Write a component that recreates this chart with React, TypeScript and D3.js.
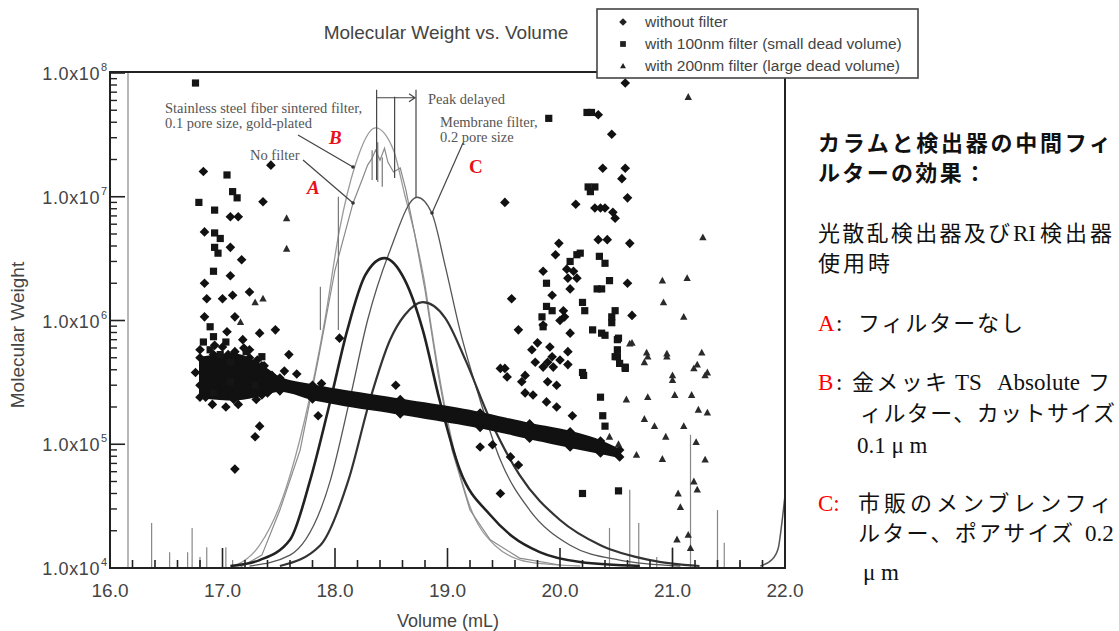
import React, { useEffect, useRef } from "react";
import * as d3 from "d3";

const width = 1119;
const height = 631;

// scatter points: [volume (mL), molecular weight]
const withoutFilter = [
  [16.83, 1.6e7], [17.43, 1.8e7], [17.36, 9.1e6], [17.07, 6.9e6], [17.14, 6.9e6], [16.84, 5.2e6],
  [17.07, 3.9e6], [17.17, 3.1e6], [17.07, 2.3e6], [16.84, 2.0e6], [16.86, 1.5e6], [17.0, 1.5e6],
  [17.09, 1.6e6], [17.24, 1.7e6], [16.84, 1.07e6], [17.11, 1.07e6], [17.04, 8.1e5], [17.18, 7.0e5],
  [17.33, 7.9e5], [17.47, 8.4e5], [17.0, 6.1e5], [17.11, 5.6e5], [17.24, 5.8e5], [17.31, 4.8e5],
  [16.92, 5.3e5], [16.92, 2.7e5], [17.03, 2.0e5], [17.29, 1.15e5], [17.33, 1.4e5], [17.11, 6.3e4],
  [16.84, 2.5e5], [17.59, 5.3e5], [18.04, 7.2e5], [17.88, 3.1e5], [17.85, 1.7e5], [18.54, 3.0e5],
  [16.8, 5.8e5], [16.84, 4.6e5], [16.89, 3.6e5], [16.93, 6.3e5], [16.96, 4.8e5], [17.0, 3.0e5],
  [17.02, 4.0e5], [17.05, 5.3e5], [17.08, 2.5e5], [17.12, 3.4e5], [17.16, 4.6e5], [17.19, 6.0e5],
  [17.23, 2.85e5], [17.26, 3.8e5], [17.3, 2.3e5], [17.33, 3.3e5], [17.37, 4.3e5], [17.4, 2.6e5],
  [17.44, 3.6e5], [16.8, 3.0e5], [16.85, 2.4e5], [16.91, 2.1e5], [16.76, 3.8e5], [17.14, 2.1e5],
  [17.24, 5.0e5], [17.55, 3.9e5], [17.66, 3.7e5],
  [19.29, 9.5e4], [19.4, 9.9e4], [19.56, 7.9e4], [19.63, 6.8e4], [19.47, 4.0e4],
  [19.47, 4.1e5], [19.53, 3.5e5], [19.66, 3.2e5], [19.69, 2.6e5], [19.76, 2.5e5], [19.89, 3.2e5],
  [19.97, 3.0e5], [19.88, 2.2e5], [19.97, 2.0e5], [20.11, 1.7e5],
  [20.34, 4.6e7], [20.46, 3.2e7], [20.58, 8.3e7], [20.38, 1.7e7], [20.58, 1.7e7], [20.55, 1.4e7],
  [19.51, 9.0e6], [20.14, 8.7e6], [20.6, 9.8e6], [20.31, 8.1e6], [20.36, 8.1e6], [20.4, 8.1e6],
  [20.47, 7.5e6], [20.49, 6.7e6], [20.34, 4.5e6], [20.42, 4.5e6], [20.62, 4.2e6], [19.99, 4.2e6],
  [19.96, 3.4e6], [19.85, 2.5e6], [20.06, 2.6e6], [20.12, 2.5e6], [20.07, 2.2e6], [20.15, 2.2e6],
  [20.6, 2.0e6], [19.57, 1.5e6], [20.09, 1.8e6], [19.93, 1.6e6], [20.03, 1.2e6], [20.04, 1.07e6],
  [20.0, 1.0e6], [20.64, 1.1e6], [19.63, 8.4e5], [20.09, 7.9e5], [19.85, 9.2e5], [19.8, 6.6e5],
  [19.75, 5.8e5], [19.91, 6.1e5], [19.93, 5.1e5], [19.89, 4.6e5], [20.07, 5.6e5], [20.0, 4.8e5],
  [20.07, 4.4e5], [19.78, 4.6e5], [19.85, 4.2e5], [19.94, 4.2e5], [19.51, 4.1e5], [19.69, 3.6e5],
];

const filter100nm = [
  [16.76, 8.3e7], [17.04, 1.5e7], [17.09, 1.1e7], [17.13, 9.8e6], [16.79, 9.0e6], [16.93, 7.8e6],
  [16.93, 5.1e6], [16.98, 4.6e6], [16.93, 3.9e6], [16.96, 3.5e6], [16.92, 2.5e6], [16.89, 8.9e5],
  [16.92, 7.4e5], [16.98, 5.3e5], [17.07, 4.6e5], [16.89, 5.8e5],
  [16.83, 6.7e5], [17.03, 6.7e5], [17.21, 5.6e5], [17.35, 5.1e5], [16.92, 2.6e5], [17.07, 3.2e5], [17.29, 3.0e5],
  [19.9, 4.3e7], [20.24, 4.8e7], [20.28, 4.8e7], [20.25, 1.2e7], [20.31, 1.2e7], [20.27, 1.1e7],
  [20.09, 3.0e6], [20.15, 3.4e6], [20.18, 3.5e6], [20.35, 3.3e6], [20.4, 2.9e6], [19.88, 2.0e6],
  [20.44, 2.1e6], [20.33, 1.8e6], [20.37, 1.8e6], [19.88, 1.3e6], [19.93, 1.2e6], [20.2, 1.4e6],
  [20.22, 1.2e6], [20.49, 1.2e6], [20.46, 1.07e6], [20.46, 9.6e5], [19.84, 1.07e6], [19.85, 8.9e5],
  [20.29, 8.4e5], [20.37, 7.9e5], [20.4, 7.6e5], [20.52, 7.2e5], [20.51, 5.8e5], [20.49, 5.1e5],
  [20.53, 4.5e5], [20.58, 4.2e5], [20.2, 3.8e5], [20.51, 7.0e5], [20.51, 5.1e5], [20.58, 4.1e5],
  [20.21, 3.6e5], [20.36, 2.4e5], [20.38, 1.7e5], [20.4, 1.4e5], [20.2, 4.0e4], [20.52, 4.2e4],
];

const filter200nm = [
  [17.57, 6.7e6], [17.57, 3.8e6], [17.29, 1.4e6], [17.36, 1.5e6], [17.16, 9.7e5],
  [21.14, 6.4e7], [21.27, 4.7e6], [20.91, 2.1e6], [20.92, 1.4e6], [21.13, 2.2e6], [21.1, 1.07e6],
  [20.64, 6.6e5], [20.77, 5.5e5], [20.95, 5.4e5], [20.75, 4.6e5], [21.0, 3.6e5], [21.22, 4.4e5],
  [21.31, 3.8e5], [21.26, 5.5e5], [20.62, 6.5e5], [20.78, 5.1e5], [20.95, 5.1e5], [21.19, 4.1e5],
  [21.29, 3.6e5], [21.0, 3.3e5], [20.59, 2.3e5], [20.78, 2.4e5], [21.02, 2.5e5], [21.17, 2.5e5],
  [21.23, 1.9e5], [21.31, 1.8e5], [20.75, 1.6e5], [20.84, 1.4e5], [21.1, 1.4e5], [20.94, 1.15e5],
  [21.21, 1.04e5], [21.29, 7.5e4], [21.19, 5.0e4], [20.91, 7.6e4], [20.68, 8.2e4], [20.52, 1.0e5],
  [20.44, 1.15e5], [21.05, 4.0e4], [21.07, 3.1e4], [21.22, 4.3e4], [21.04, 1.7e4], [21.14, 1.85e4],
  [21.16, 1.45e4],
];

// the solid run of overlapping "without filter" diamonds
const bandVolume = [16.8, 17.1, 17.35, 17.51, 17.8, 18.58, 19.29, 19.73, 20.09, 20.36, 20.53];
const bandUpper = [5.0e5, 5.3e5, 4.3e5, 3.43e5, 3.0e5, 2.3e5, 1.79e5, 1.46e5, 1.26e5, 1.06e5, 9.0e4];
const bandLower = [2.4e5, 2.3e5, 2.5e5, 2.7e5, 2.32e5, 1.76e5, 1.37e5, 1.12e5, 9.5e4, 8.5e4, 7.9e4];

// detector traces: [volume (mL), signal in % of full scale]
const traceNoFilter = [
  [17.16, 0.2], [17.35, 2.6], [17.51, 11.7], [17.69, 23.8], [17.85, 42.0], [18.0, 60.2], [18.16, 73.7],
  [18.24, 78.4], [18.29, 81.4], [18.33, 82.8], [18.36, 84.4], [18.4, 82.4], [18.44, 84.8], [18.47, 82.0],
  [18.52, 80.0], [18.58, 80.8], [18.63, 76.4], [18.71, 67.3], [18.8, 56.2], [18.91, 40.0], [19.04, 23.8],
  [19.2, 11.7], [19.38, 5.7], [19.64, 2.0], [20.0, 0.6],
];
const traceSteel = [
  [17.11, 0.4], [17.33, 4.6], [17.56, 15.8], [17.73, 29.9], [17.91, 50.1], [18.04, 68.3], [18.18, 81.4],
  [18.36, 88.9], [18.52, 84.4], [18.62, 75.4], [18.71, 67.3], [18.8, 57.2], [18.86, 48.1], [19.0, 29.9],
  [19.18, 13.7], [19.42, 4.6], [19.73, 1.2], [20.18, 0.4],
];
const traceMembrane = [
  [17.24, 0.4], [17.6, 2.6], [17.96, 17.8], [18.13, 33.9], [18.29, 50.1], [18.49, 64.2], [18.73, 74.9],
  [18.86, 71.7], [18.98, 61.0], [19.11, 48.1], [19.29, 33.9], [19.47, 21.8], [19.73, 11.7], [20.09, 4.6],
  [20.53, 1.6], [21.07, 0.4],
];
const traceThickA = [
  [17.07, 0.4], [17.33, 1.6], [17.6, 5.7], [17.78, 17.8], [17.96, 33.9], [18.11, 48.1], [18.27, 59.2],
  [18.44, 62.6], [18.62, 58.2], [18.78, 48.1], [18.93, 33.9], [19.11, 19.8], [19.38, 10.7], [19.58, 6.3],
  [19.82, 3.2], [20.18, 1.2], [20.71, 0.4],
];
const traceThickB = [
  [17.51, 0.4], [17.87, 4.6], [18.12, 17.8], [18.31, 33.9], [18.49, 46.1], [18.62, 51.1], [18.78, 53.7],
  [18.98, 50.5], [19.16, 42.0], [19.38, 29.9], [19.64, 18.8], [20.0, 9.7], [20.36, 4.6], [20.8, 1.6],
  [21.24, 0.4],
];
const traceEnd = [[21.78, 0.4], [21.88, 1.6], [21.94, 4.0], [21.97, 8.7], [22.0, 14.7]];
const baselineSpikes = [
  [16.16, 100], [16.37, 9.1], [16.53, 3.2], [16.69, 3.2], [16.73, 8.1], [16.8, 2.2], [16.86, 4.2],
  [17.03, 4.2], [17.09, 1.6], [20.44, 8.1], [20.62, 15.8], [20.7, 9.1], [20.86, 2.2], [21.0, 4.2],
  [21.16, 26.9], [21.4, 11.7], [21.46, 5.1], [21.6, 1.2], [21.8, 1.2],
];
// noise steps on the traces: [volume, from %, to %]
const traceSteps = [[17.87, 56.8, 48.1], [18.03, 75.0, 48.1], [18.33, 84.4, 78.4], [18.38, 86.0, 78.0], [18.42, 83.0, 77.0]];
// peak markers for "Peak delayed": [volume, top %, bottom %]
const peakMarks = [[18.37, 96.6, 78.4], [18.53, 95.2, 78.8], [18.72, 96.6, 74.9]];

const xTicks = [16, 17, 18, 19, 20, 21, 22];
const yDecades = [4, 5, 6, 7, 8];
const legendLabels = ["without filter", "with 100nm filter (small dead volume)", "with 200nm filter (large dead volume)"];

const jp = "'Noto Sans CJK JP', sans-serif";
const serif = "'Liberation Serif', 'Times New Roman', serif";
const sans = "'Liberation Sans', Arial, sans-serif";

// right-hand note: [baseline y, segments]
const noteLines = [
  [151, [{ t: "カラムと検出器の中間フィ", x: 818, w: 293, bold: true }]],
  [181, [{ t: "ルターの効果：", x: 818, w: 168, bold: true }]],
  [241, [{ t: "光散乱検出器及び", x: 818, w: 192 }, { t: "RI", x: 1013, serif: true }, { t: "検出器", x: 1040, w: 72 }]],
  [271, [{ t: "使用時", x: 818, w: 72 }]],
  [331, [{ t: "A", x: 818, serif: true, red: true }, { t: ":", x: 836, serif: true }, { t: "フィルターなし", x: 858, w: 165 }]],
  [390, [{ t: "B", x: 818, serif: true, red: true }, { t: ":", x: 836, serif: true }, { t: "金メッキ", x: 852, w: 95 },
    { t: "TS", x: 955, serif: true }, { t: "Absolute", x: 997, serif: true }, { t: "フ", x: 1088, w: 24 }]],
  [421, [{ t: "ィルター、カットサイズ", x: 860, w: 255 }]],
  [453, [{ t: "0.1 μ m", x: 857, serif: true }]],
  [511, [{ t: "C:", x: 818, serif: true, red: true }, { t: "市販のメンブレンフィ", x: 858, w: 254 }]],
  [541, [{ t: "ルター、ポアサイズ", x: 858, w: 215 }, { t: "0.2", x: 1085, serif: true }]],
  [580, [{ t: "μ m", x: 863, serif: true }]],
];

const diamond = "M0,-4.8L4.8,0L0,4.8L-4.8,0Z";
const square = "M-3.6,-3.6H3.6V3.6H-3.6Z";
const triangle = "M0,-3.9L3.7,2.9H-3.7Z";

const App = () => {
  const svgRef = useRef(null);

  useEffect(() => {
    const svg = d3.select(svgRef.current);
    svg.selectAll("*").remove();

    const x = d3.scaleLinear().domain([16, 22]).range([110, 785]);
    const y = d3.scaleLog().domain([1e4, 1e8]).range([568, 73]);
    const sig = d3.scaleLinear().domain([0, 100]).range([568, 73]);

    svg.append("rect").attr("width", width).attr("height", height).attr("fill", "#fff");

    // baseline spikes
    svg.append("g")
      .selectAll("line")
      .data(baselineSpikes)
      .join("line")
      .attr("x1", (d) => x(d[0]))
      .attr("x2", (d) => x(d[0]))
      .attr("y1", sig(0))
      .attr("y2", (d) => sig(d[1]))
      .attr("stroke", "#888")
      .attr("stroke-width", 1.2);

    const traces = [
      { data: traceSteel, color: "#9a9a9a", w: 1.3, curve: d3.curveMonotoneX },
      { data: traceNoFilter, color: "#8a8a8a", w: 1.2, curve: d3.curveLinear },
      { data: traceMembrane, color: "#555", w: 1.3, curve: d3.curveMonotoneX },
      { data: traceThickB, color: "#333", w: 2.2, curve: d3.curveMonotoneX },
      { data: traceThickA, color: "#222", w: 2.6, curve: d3.curveMonotoneX },
      { data: traceEnd, color: "#555", w: 1.5, curve: d3.curveMonotoneX },
    ];
    traces.forEach((t) => {
      const line = d3.line().x((d) => x(d[0])).y((d) => sig(d[1])).curve(t.curve);
      svg.append("path")
        .datum(t.data)
        .attr("fill", "none")
        .attr("stroke", t.color)
        .attr("stroke-width", t.w)
        .attr("d", line);
    });

    svg.append("g")
      .selectAll("line")
      .data(traceSteps)
      .join("line")
      .attr("x1", (d) => x(d[0]))
      .attr("x2", (d) => x(d[0]))
      .attr("y1", (d) => sig(d[1]))
      .attr("y2", (d) => sig(d[2]))
      .attr("stroke", "#777")
      .attr("stroke-width", 1.2);

    // peak delayed markers
    svg.append("g")
      .selectAll("line")
      .data(peakMarks)
      .join("line")
      .attr("x1", (d) => x(d[0]))
      .attr("x2", (d) => x(d[0]))
      .attr("y1", (d) => sig(d[1]))
      .attr("y2", (d) => sig(d[2]))
      .attr("stroke", "#444")
      .attr("stroke-width", 1.2);
    const ay = sig(95);
    const ax0 = x(peakMarks[0][0]);
    const ax1 = x(peakMarks[2][0]);
    svg.append("path")
      .attr("d", `M${ax0},${ay}H${ax1 - 1}M${ax1 - 7},${ay - 4}L${ax1 - 1},${ay}L${ax1 - 7},${ay + 4}`)
      .attr("fill", "none")
      .attr("stroke", "#444")
      .attr("stroke-width", 1.2);

    // dense scatter band
    const bandData = bandVolume.map((v, i) => [v, bandUpper[i], bandLower[i]]);
    const band = d3.area()
      .x((d) => x(d[0]))
      .y0((d) => y(d[2]))
      .y1((d) => y(d[1]))
      .curve(d3.curveMonotoneX);
    svg.append("path")
      .datum(bandData)
      .attr("d", band)
      .attr("fill", "#111")
      .attr("stroke", "#111")
      .attr("stroke-width", 2)
      .attr("stroke-linejoin", "round");

    const drawPoints = (data, shape, color) =>
      svg.append("g")
        .selectAll("path")
        .data(data)
        .join("path")
        .attr("d", shape)
        .attr("transform", (d) => `translate(${x(d[0])},${y(d[1])})`)
        .attr("fill", color);

    drawPoints(bandData.map((d) => [d[0], d[1]]), diamond, "#111");
    drawPoints(bandData.map((d) => [d[0], d[2]]), diamond, "#111");
    drawPoints(withoutFilter, diamond, "#111");
    drawPoints(filter100nm, square, "#151515");
    drawPoints(filter200nm, triangle, "#2a2a2a");

    // frame
    svg.append("rect")
      .attr("x", 110)
      .attr("y", 72)
      .attr("width", 675)
      .attr("height", 496)
      .attr("fill", "none")
      .attr("stroke", "#222")
      .attr("stroke-width", 2);

    // x ticks
    const xMinor = d3.range(16, 22.001, 0.2);
    svg.append("g")
      .selectAll("line")
      .data(xMinor)
      .join("line")
      .attr("x1", (d) => x(d))
      .attr("x2", (d) => x(d))
      .attr("y1", 568)
      .attr("y2", (d) => (Math.abs(d - Math.round(d)) < 0.01 ? 548 : 560))
      .attr("stroke", "#222")
      .attr("stroke-width", 1.6);
    svg.append("g")
      .selectAll("text")
      .data(xTicks)
      .join("text")
      .attr("x", (d) => x(d))
      .attr("y", 597)
      .attr("text-anchor", "middle")
      .attr("font-family", sans)
      .attr("font-size", 19)
      .attr("fill", "#444")
      .text((d) => d3.format(".1f")(d));

    // y ticks
    const yMinor = [];
    [4, 5, 6, 7].forEach((e) => d3.range(2, 10).forEach((m) => yMinor.push(m * Math.pow(10, e))));
    svg.append("g")
      .selectAll("line")
      .data(yMinor)
      .join("line")
      .attr("x1", 110)
      .attr("x2", 117)
      .attr("y1", (d) => y(d))
      .attr("y2", (d) => y(d))
      .attr("stroke", "#222")
      .attr("stroke-width", 1.4);
    svg.append("g")
      .selectAll("line")
      .data(yDecades)
      .join("line")
      .attr("x1", 110)
      .attr("x2", 125)
      .attr("y1", (d) => y(Math.pow(10, d)))
      .attr("y2", (d) => y(Math.pow(10, d)))
      .attr("stroke", "#222")
      .attr("stroke-width", 1.6);
    const yl = svg.append("g")
      .selectAll("g")
      .data(yDecades)
      .join("g")
      .attr("transform", (d) => `translate(0,${y(Math.pow(10, d))})`)
      .attr("font-family", sans)
      .attr("fill", "#444");
    yl.append("text")
      .attr("x", 100)
      .attr("y", 7)
      .attr("text-anchor", "end")
      .attr("font-size", 18)
      .attr("letter-spacing", 0.6)
      .text("1.0x10");
    yl.append("text")
      .attr("x", 101)
      .attr("y", -2)
      .attr("font-size", 11)
      .text((d) => d);

    // titles
    svg.append("text")
      .attr("x", 446)
      .attr("y", 39)
      .attr("text-anchor", "middle")
      .attr("font-family", sans)
      .attr("font-size", 19)
      .attr("fill", "#444")
      .text("Molecular Weight vs. Volume");
    svg.append("text")
      .attr("x", 448)
      .attr("y", 627)
      .attr("text-anchor", "middle")
      .attr("font-family", sans)
      .attr("font-size", 18)
      .attr("fill", "#444")
      .text("Volume (mL)");
    svg.append("text")
      .attr("transform", "translate(24,335) rotate(-90)")
      .attr("text-anchor", "middle")
      .attr("font-family", sans)
      .attr("font-size", 19)
      .attr("fill", "#444")
      .text("Molecular Weight");

    // annotations
    const note = (tx, ty, s) =>
      svg.append("text")
        .attr("x", tx)
        .attr("y", ty)
        .attr("font-family", serif)
        .attr("font-size", 14.5)
        .attr("fill", "#555")
        .text(s);
    note(165, 113, "Stainless steel fiber sintered filter,");
    note(165, 128, "0.1 pore size, gold-plated");
    note(250, 160, "No filter");
    note(428, 104, "Peak delayed");
    note(440, 127, "Membrane filter,");
    note(440, 142, "0.2 pore size");

    const leaders = [
      [[298, 135], [353, 167]],
      [[303, 160], [353, 203]],
      [[463, 143], [432, 213]],
    ];
    leaders.forEach((l) => {
      svg.append("path")
        .attr("d", d3.line()(l))
        .attr("stroke", "#444")
        .attr("stroke-width", 1.2);
      svg.append("circle").attr("cx", l[1][0]).attr("cy", l[1][1]).attr("r", 1.8).attr("fill", "#333");
    });

    const redLabel = (tx, ty, s, italic) =>
      svg.append("text")
        .attr("x", tx)
        .attr("y", ty)
        .attr("font-family", serif)
        .attr("font-size", 19)
        .attr("font-weight", "bold")
        .attr("font-style", italic ? "italic" : "normal")
        .attr("fill", "#e8101a")
        .text(s);
    redLabel(329, 144, "B", true);
    redLabel(307, 194, "A", true);
    redLabel(469, 173, "C", false);

    // legend
    const lg = svg.append("g");
    lg.append("rect")
      .attr("x", 597)
      .attr("y", 9)
      .attr("width", 321)
      .attr("height", 69)
      .attr("fill", "#fff")
      .attr("stroke", "#444")
      .attr("stroke-width", 1.6);
    const shapes = [diamond, square, triangle];
    legendLabels.forEach((s, i) => {
      const ry = 22 + i * 22;
      lg.append("path").attr("d", shapes[i]).attr("transform", `translate(623,${ry}) scale(0.8)`).attr("fill", "#222");
      lg.append("text")
        .attr("x", 645)
        .attr("y", ry + 5)
        .attr("font-family", sans)
        .attr("font-size", 15.5)
        .attr("fill", "#444")
        .text(s);
    });

    // right-hand note
    const ng = svg.append("g");
    noteLines.forEach(([by, segs]) => {
      segs.forEach((sg) => {
        const t = ng.append("text")
          .attr("x", sg.x)
          .attr("y", by)
          .attr("font-family", sg.serif ? serif : jp)
          .attr("font-size", sg.serif ? 23 : 22)
          .attr("font-weight", sg.bold ? "bold" : "normal")
          .attr("fill", sg.red ? "#f00" : "#111")
          .text(sg.t);
        if (sg.w) t.attr("textLength", sg.w).attr("lengthAdjust", "spacing");
      });
    });
  }, []);

  return (
    <svg
      ref={svgRef}
      width={width}
      height={height}
      style={{ position: "absolute", left: 0, top: 0, display: "block" }}
    ></svg>
  );
};

export default App;
